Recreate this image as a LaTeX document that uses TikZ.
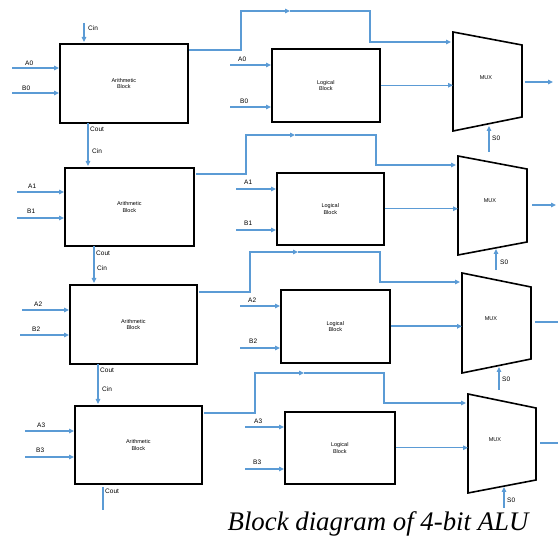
\documentclass[tikz,border=0pt]{standalone}
\usepackage{fontspec}
\setmainfont{Liberation Serif}
\setsansfont{Liberation Sans}
\usetikzlibrary{arrows.meta,calc}
\definecolor{wireblue}{RGB}{91,155,213}
\begin{document}
\begin{tikzpicture}[x=1pt,y=-1pt,
  box/.style={draw=black,line width=1.6pt,fill=white,anchor=north west,inner sep=0pt,align=center,font=\sffamily\fontsize{5.5}{6.5}\selectfont},
  wire/.style={draw=wireblue,line width=1.1pt},
  thick wire/.style={draw=wireblue,line width=1.9pt},
  arr/.style={-{Triangle[length=5pt,width=4.5pt]}},
  lbl/.style={font=\sffamily\fontsize{6.5}{7.5}\selectfont,inner sep=0pt,anchor=west},
  muxbody/.style={draw=black,line width=1.6pt,fill=white},
  muxtxt/.style={font=\sffamily\fontsize{5.5}{6.5}\selectfont,inner sep=0pt}]
\useasboundingbox (0,0) rectangle (558,540);

% ---------- arithmetic blocks
\node[box,minimum width=128pt,minimum height=79pt] (ar1) at (59,43) {Arithmetic\\Block};
\node[box,minimum width=129pt,minimum height=78pt] (ar2) at (64,167) {Arithmetic\\Block};
\node[box,minimum width=127pt,minimum height=79pt] (ar3) at (69,284) {Arithmetic\\Block};
\node[box,minimum width=127pt,minimum height=78pt] (ar4) at (74,405) {Arithmetic\\Block};
% ---------- logical blocks
\node[box,minimum width=108pt,minimum height=73pt] (lg1) at (271,48) {Logical\\Block};
\node[box,minimum width=107pt,minimum height=72pt] (lg2) at (276,172) {Logical\\Block};
\node[box,minimum width=109pt,minimum height=73pt] (lg3) at (280,289) {Logical\\Block};
\node[box,minimum width=110pt,minimum height=72pt] (lg4) at (284,411) {Logical\\Block};

% ---------- multiplexers
\coordinate (m1a) at (453,32); \coordinate (m1b) at (522,45); \coordinate (m1c) at (522,117); \coordinate (m1d) at (453,131);
\coordinate (m2a) at (458,156); \coordinate (m2b) at (527,169); \coordinate (m2c) at (527,242); \coordinate (m2d) at (458,255);
\coordinate (m3a) at (462,273); \coordinate (m3b) at (531,287); \coordinate (m3c) at (531,359); \coordinate (m3d) at (462,373);
\coordinate (m4a) at (468,394); \coordinate (m4b) at (536,408); \coordinate (m4c) at (536,480); \coordinate (m4d) at (468,493);
\draw[muxbody] (m1a)--(m1b)--(m1c)--(m1d)--cycle;
\draw[muxbody] (m2a)--(m2b)--(m2c)--(m2d)--cycle;
\draw[muxbody] (m3a)--(m3b)--(m3c)--(m3d)--cycle;
\draw[muxbody] (m4a)--(m4b)--(m4c)--(m4d)--cycle;
\node[muxtxt] (mx1) at (486,78) {MUX};
\node[muxtxt] (mx2) at (490,201) {MUX};
\node[muxtxt] (mx3) at (491,319) {MUX};
\node[muxtxt] (mx4) at (495,440) {MUX};

% ---------- logical block -> mux
\draw[wire,arr] (lg1.east) -- (lg1.east -| m1a);
\draw[wire,arr] (lg2.east) -- (lg2.east -| m2a);
\draw[thick wire,arr] (lg3.east) -- (lg3.east -| m3a);
\draw[wire,arr] (lg4.east) -- (lg4.east -| m4a);

% ---------- arithmetic block -> mux (routed over the logical block)
\coordinate (o1) at (189,50);  \coordinate (t1) at (290,11);  \coordinate (i1) at (451,42);
\coordinate (o2) at (196,174); \coordinate (t2) at (295,135); \coordinate (i2) at (456,165);
\coordinate (o3) at (199,292); \coordinate (t3) at (298,252); \coordinate (i3) at (460,282);
\coordinate (o4) at (204,413); \coordinate (t4) at (304,373); \coordinate (i4) at (466,403);
\draw[wire,arr] (o1) -- (241,50) -- (241,11) -- (t1);
\draw[wire,arr] (t1) -- (370,11) -- (370,42) -- (i1);
\draw[thick wire,arr] (o2) -- (246,174) -- (246,135) -- (t2);
\draw[thick wire,arr] (t2) -- (376,135) -- (376,165) -- (i2);
\draw[thick wire,arr] (o3) -- (250,292) -- (250,252) -- (t3);
\draw[thick wire,arr] (t3) -- (380,252) -- (380,282) -- (i3);
\draw[wire,arr] (o4) -- (255,413) -- (255,373) -- (t4);
\draw[thick wire,arr] (t4) -- (384,373) -- (384,403) -- (i4);

% ---------- mux outputs
\coordinate (q1) at (553,82);  \draw[wire,arr] (m1c |- 0,82) ++(3,0) -- (q1);
\coordinate (q2) at (556,205); \draw[wire,arr] (m2c |- 0,205) ++(5,0) -- (q2);
\coordinate (q3) at (558,322); \draw[wire] (m3c |- 0,322) ++(4,0) -- (q3);
\coordinate (q4) at (558,443); \draw[wire] (m4c |- 0,443) ++(4,0) -- (q4);

% ---------- select lines
\coordinate (s1) at (489,152); \coordinate (s1e) at (489,126);
\coordinate (s2) at (496,270); \coordinate (s2e) at (496,249);
\coordinate (s3) at (499,390); \coordinate (s3e) at (499,367);
\coordinate (s4) at (504,508); \coordinate (s4e) at (504,487);
\draw[thick wire,arr] (s1) -- (s1e);
\draw[thick wire,arr] (s2) -- (s2e);
\draw[wire,arr] (s3) -- (s3e);
\draw[thick wire,arr] (s4) -- (s4e);
\node[lbl] (ls1) at (492,138) {S0};
\node[lbl] (ls2) at (500,262) {S0};
\node[lbl] (ls3) at (502,379) {S0};
\node[lbl] (ls4) at (507,500) {S0};

% ---------- carry chain
\coordinate (cin0) at (84,23); \coordinate (cin0e) at (84,42);
\draw[wire,arr] (cin0) -- (cin0e);
\node[lbl] (lcin1) at (88,28) {Cin};
\coordinate (c1s) at (88,123); \coordinate (c1e) at (88,166);
\draw[wire,arr] (c1s) -- (c1e);
\node[lbl] (lco1) at (90,129) {Cout};
\node[lbl] (lcin2) at (92,151) {Cin};
\coordinate (c2s) at (94,246); \coordinate (c2e) at (94,283);
\draw[wire,arr] (c2s) -- (c2e);
\node[lbl] (lco2) at (96,253) {Cout};
\node[lbl] (lcin3) at (97,268) {Cin};
\coordinate (c3s) at (98,364); \coordinate (c3e) at (98,404);
\draw[wire,arr] (c3s) -- (c3e);
\node[lbl] (lco3) at (100,370) {Cout};
\node[lbl] (lcin4) at (102,389) {Cin};
\coordinate (c4s) at (103,487); \coordinate (c4e) at (103,510);
\draw[wire] (c4s) -- (c4e);
\node[lbl] (lco4) at (105,491) {Cout};

% ---------- data inputs of the arithmetic blocks
\coordinate (aa0) at (12,68);  \draw[wire,arr] (aa0) -- (aa0 -| ar1.west);
\coordinate (ab0) at (12,93);  \draw[wire,arr] (ab0) -- (ab0 -| ar1.west);
\coordinate (aa1) at (17,192); \draw[wire,arr] (aa1) -- (aa1 -| ar2.west);
\coordinate (ab1) at (17,218); \draw[wire,arr] (ab1) -- (ab1 -| ar2.west);
\coordinate (aa2) at (22,310); \draw[wire,arr] (aa2) -- (aa2 -| ar3.west);
\coordinate (ab2) at (20,335); \draw[thick wire,arr] (ab2) -- (ab2 -| ar3.west);
\coordinate (aa3) at (25,431); \draw[wire,arr] (aa3) -- (aa3 -| ar4.west);
\coordinate (ab3) at (25,457); \draw[wire,arr] (ab3) -- (ab3 -| ar4.west);
\node[lbl] (laa0) at (25,63) {A0};
\node[lbl] (lab0) at (22,88) {B0};
\node[lbl] (laa1) at (28,186) {A1};
\node[lbl] (lab1) at (27,211) {B1};
\node[lbl] (laa2) at (34,304) {A2};
\node[lbl] (lab2) at (32,329) {B2};
\node[lbl] (laa3) at (37,425) {A3};
\node[lbl] (lab3) at (36,450) {B3};

% ---------- data inputs of the logical blocks
\coordinate (la0) at (230,65);  \draw[wire,arr] (la0) -- (la0 -| lg1.west);
\coordinate (lb0) at (230,107); \draw[wire,arr] (lb0) -- (lb0 -| lg1.west);
\coordinate (la1) at (236,189); \draw[wire,arr] (la1) -- (la1 -| lg2.west);
\coordinate (lb1) at (236,230); \draw[wire,arr] (lb1) -- (lb1 -| lg2.west);
\coordinate (la2) at (240,306); \draw[wire,arr] (la2) -- (la2 -| lg3.west);
\coordinate (lb2) at (240,348); \draw[wire,arr] (lb2) -- (lb2 -| lg3.west);
\coordinate (la3) at (245,427); \draw[wire,arr] (la3) -- (la3 -| lg4.west);
\coordinate (lb3) at (245,469); \draw[wire,arr] (lb3) -- (lb3 -| lg4.west);
\node[lbl] (lla0) at (238,59) {A0};
\node[lbl] (llb0) at (240,101) {B0};
\node[lbl] (lla1) at (244,182) {A1};
\node[lbl] (llb1) at (244,223) {B1};
\node[lbl] (lla2) at (248,300) {A2};
\node[lbl] (llb2) at (249,341) {B2};
\node[lbl] (lla3) at (254,421) {A3};
\node[lbl] (llb3) at (253,462) {B3};

% ---------- caption
\node[font=\itshape\fontsize{26.8}{30}\selectfont,anchor=base,inner sep=0pt] (cap) at (378,531) {Block diagram of 4-bit ALU};
\end{tikzpicture}
\end{document}
